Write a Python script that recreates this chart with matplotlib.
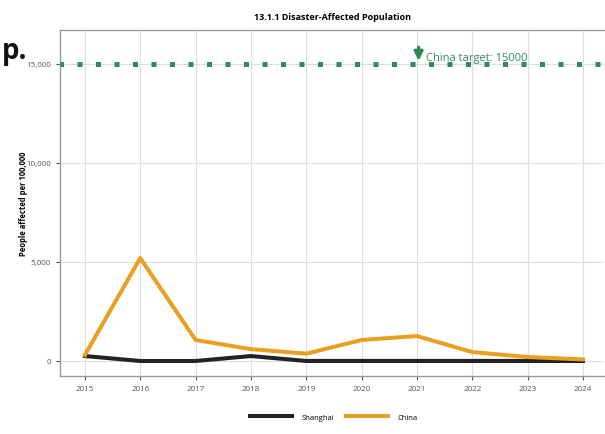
import matplotlib
matplotlib.use("Agg")
import matplotlib.pyplot as plt
from matplotlib.lines import Line2D

plt.rcParams['font.family'] = ['Open Sans', 'DejaVu Sans']

years = [2015, 2016, 2017, 2018, 2019, 2020, 2021, 2022, 2023, 2024]
shanghai = [250, 0, 0, 250, 0, 0, 0, 0, 0, 0]
china = [300, 5200, 1060, 600, 370, 1060, 1260, 450, 200, 80]
shanghai_shadow_years = [2019, 2020, 2021, 2022, 2023, 2024]
shanghai_shadow = [110, 110, 110, 110, 110, 110]
target_value = 15000
target_year_label = 2021
yticks = [0, 5000, 10000, 15000]
ytick_labels = ["0", "5,000", "10,000", "15,000"]

fig = plt.figure(figsize=(6.05, 4.35), dpi=100)
ax = fig.add_axes([60/605, 58/435, 544/605, 346/435])

ax.set_xlim(2014.55, 2024.38)
ax.set_ylim(-758, 16717)

ax.grid(True, color="#dddddd", linewidth=0.8)
ax.set_axisbelow(True)

ax.plot(shanghai_shadow_years, shanghai_shadow, color="#999999", linewidth=1.0, zorder=2)
ax.plot(years, shanghai, color="#222222", linewidth=2.9, zorder=3)
ax.plot(years, china, color="#e8a020", linewidth=2.9, zorder=4)

# target line
ax.axhline(target_value, color="#2e8b57", linewidth=3.6, linestyle=(0.3, (1.0, 2.7)), zorder=5)
ax.annotate("", xy=(target_year_label + 0.03, target_value + 20),
            xytext=(target_year_label + 0.03, target_value + 1000),
            arrowprops=dict(arrowstyle="-|>", color="#2e8b57", lw=2.2, mutation_scale=13), zorder=6)
ax.text(target_year_label + 0.17, target_value + 330, f"China target: {target_value}",
        color="#2e8b57", fontsize=8, va="center", ha="left", zorder=6)

ax.set_xticks(years)
ax.set_xticklabels([str(y) for y in years])
ax.set_yticks(yticks)
ax.set_yticklabels(ytick_labels)
ax.tick_params(axis="both", labelsize=5.8, colors="#555555", length=3, width=0.8)

for s in ["left", "bottom", "top"]:
    ax.spines[s].set_color("#999999")
    ax.spines[s].set_linewidth(1.0)
ax.spines["right"].set_visible(False)

ax.set_ylabel("People affected per 100,000", fontsize=5.5, fontweight="bold")
ax.yaxis.set_label_coords(-32/544, 0.5)
fig.text(332/605, 1 - 18/435, "13.1.1 Disaster-Affected Population", ha="center", va="center",
         fontsize=6.5, fontweight="bold")

fig.text(0.003, 1 - 52/435, "p.", fontsize=20, fontweight="bold", ha="left", va="center", color="#111111")

handles = [Line2D([0], [0], color="#222222", lw=2.9), Line2D([0], [0], color="#e8a020", lw=2.9)]
fig.legend(handles, ["Shanghai", "China"], loc="center", bbox_to_anchor=(334/605, 1 - 418/435),
           ncol=2, frameon=False, fontsize=5.5, handlelength=5.5, columnspacing=1.5, handletextpad=1.3)

fig.savefig("out.png", dpi=100)
